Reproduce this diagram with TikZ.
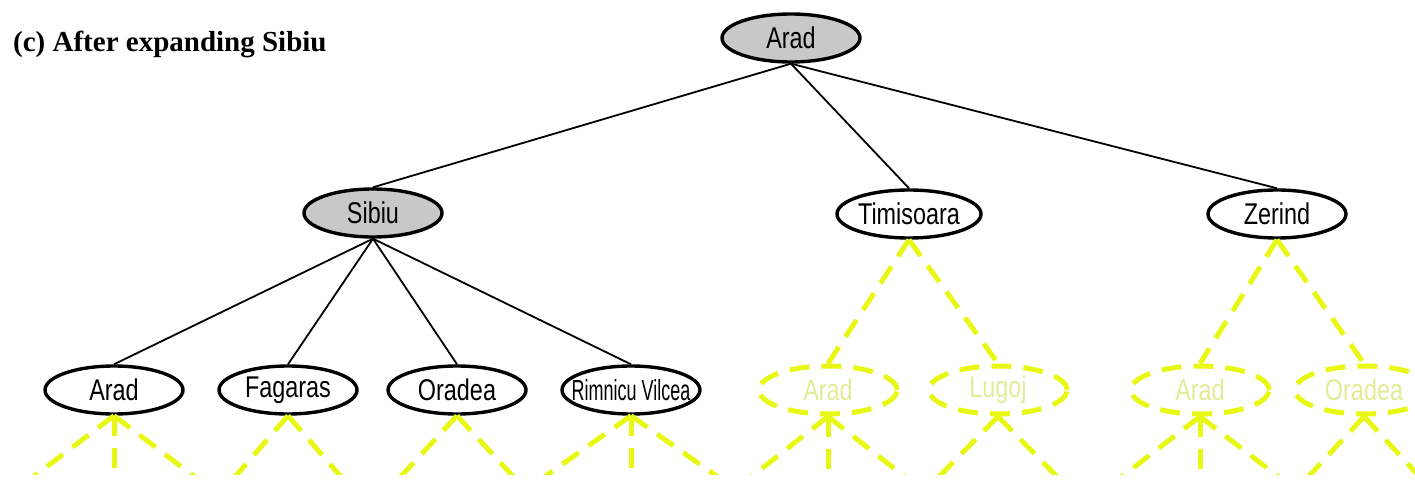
\documentclass[tikz,border=0pt]{standalone}
\usepackage{fontspec}
\setmainfont{Liberation Serif}
\newfontfamily\citysans[FakeStretch=0.78]{Liberation Sans}
\newfontfamily\citynarrow[FakeStretch=0.62]{Liberation Sans}
\usetikzlibrary{shapes.geometric,calc}
\definecolor{expgray}{RGB}{200,200,200}
\definecolor{frontier}{RGB}{232,248,20}
\definecolor{frontiertext}{RGB}{226,236,150}

\begin{document}
\begin{tikzpicture}[x=1pt,y=-1pt,
  city/.style={ellipse, draw=black, line width=3.4pt, minimum width=138pt,
    minimum height=48pt, inner sep=0pt, font=\citysans\fontsize{30}{32}\selectfont},
  expanded/.style={city, fill=expgray},
  fringe/.style={city, fill=white},
  unseen/.style={city, draw=frontier, line width=5pt,
    dash pattern=on 20pt off 12pt, text=frontiertext},
  tree/.style={line width=1.8pt},
  future/.style={draw=frontier, line width=5pt, dash pattern=on 20pt off 12pt}]
\useasboundingbox (0,0) rectangle (1415,481);

% heading
\node[anchor=west, inner sep=0pt, font=\bfseries\fontsize{29}{32}\selectfont]
  (title) at (13,44) {(c) After expanding Sibiu};

% root and first level
\node[expanded] (arad) at (791,38) {Arad};
\node[expanded] (sibiu) at (373,213) {Sibiu};
\node[fringe] (timisoara) at (909,214) {Timisoara};
\node[fringe] (zerind) at (1277,214) {Zerind};

% children of Sibiu
\node[fringe] (sarad) at (114,390) {Arad};
\node[fringe] (fagaras) at (288,390) {Fagaras};
\node[fringe] (oradea) at (457,390) {Oradea};
\node[fringe, font=\citynarrow\fontsize{29}{31}\selectfont] (rimnicu) at (631,390)
  {\makebox[0pt]{Rimnicu Vilcea}};

% not yet generated
\node[unseen] (tarad) at (828,390) {Arad};
\node[unseen] (lugoj) at (998,390) {Lugoj};
\node[unseen] (zarad) at (1200,390) {Arad};
\node[unseen] (zoradea) at (1364,390) {Oradea};

% expanded edges
\draw[tree] (arad.south) -- (sibiu.north);
\draw[tree] (arad.south) -- (timisoara.north);
\draw[tree] (arad.south) -- (zerind.north);
\foreach \c in {sarad,fagaras,oradea,rimnicu}
  \draw[tree] (sibiu.south) -- (\c.north);

% edges to unexpanded successors
\draw[future] (timisoara.south) -- (tarad.north);
\draw[future] (timisoara.south) -- (lugoj.north);
\draw[future] (zerind.south) -- (zarad.north);
\draw[future] (zerind.south) -- (zoradea.north);

% successors below the last row, cut off at the lower edge
\begin{scope}
\clip (0,0) rectangle (1415,474);
\foreach \p/\dxs in {sarad/{-140,0,140}, fagaras/{-92,92}, oradea/{-98,98},
                    rimnicu/{-150,0,150}, tarad/{-135,0,135}, lugoj/{-104,104},
                    zarad/{-138,0,138}, zoradea/{-98,98}}{
  \foreach \d [count=\i] in \dxs {
    \coordinate (\p-g\i) at ($(\p.south)+(\d,106)$);
    \draw[future] (\p.south) -- (\p-g\i);
  }
}
\end{scope}
\end{tikzpicture}
\end{document}
